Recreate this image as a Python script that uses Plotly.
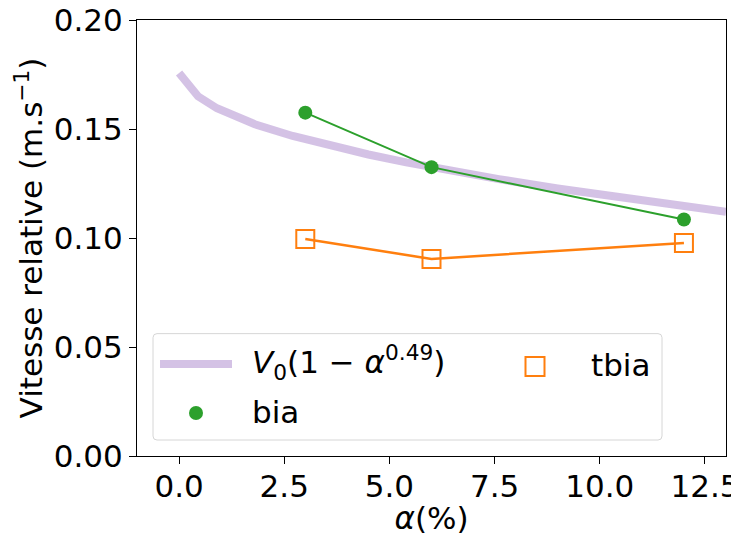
import plotly.graph_objects as go

# Model curve V0(1 - alpha^0.49)
curve_x = [0, 0.45, 0.9, 1.35, 1.8, 2.7, 3.6, 4.5, 5.4, 6.3, 7.6, 9.0, 10.3, 11.7, 13.0]
curve_y = [0.1757, 0.1650, 0.1595, 0.1555, 0.1522, 0.1468, 0.1423, 0.1383, 0.1347, 0.1314, 0.1270, 0.1227, 0.1190, 0.1153, 0.1120]

# bia series
bia_x = [3, 6, 12]
bia_y = [0.1575, 0.1325, 0.1085]

# tbia series
tbia_x = [3, 6, 12]
tbia_y = [0.0995, 0.0904, 0.0977]

x_ticks = [0, 2.5, 5, 7.5, 10, 12.5]
x_ticktext = ["0.0", "2.5", "5.0", "7.5", "10.0", "12.5"]
y_ticks = [0, 0.05, 0.10, 0.15, 0.20]
y_ticktext = ["0.00", "0.05", "0.10", "0.15", "0.20"]

legend_labels = ["<i>V</i><sub>0</sub>(1 − <i>α</i><sup>0.49</sup>)", "bia", "tbia"]

FONT = "DejaVu Sans"
FS = 31
PURPLE = "rgba(148,103,189,0.4)"
GREEN = "#2ca02c"
ORANGE = "#ff7f0e"

# page body adds an 8px offset; compensate so the plot lands where the reference has it
OFF = 8
W, H = 739 - OFF, 536 - OFF
ML, MR, MT, MB = 137 - OFF, 13, 19.5 - OFF, 80
PW, PH = W - ML - MR, H - MT - MB


def px_x(p):
    # p given in reference (window) pixels
    return (p - OFF - ML) / PW


def px_y(p):
    return (H - MB - (p - OFF)) / PH


fig = go.Figure()
fig.add_trace(go.Scatter(
    x=curve_x, y=curve_y, mode="lines",
    line=dict(color=PURPLE, width=8),
    name=legend_labels[0], showlegend=False,
))
fig.add_trace(go.Scatter(
    x=bia_x, y=bia_y, mode="lines+markers",
    line=dict(color=GREEN, width=2),
    marker=dict(color=GREEN, size=14, symbol="circle"),
    name=legend_labels[1], showlegend=False,
))
fig.add_trace(go.Scatter(
    x=tbia_x, y=tbia_y, mode="lines+markers",
    line=dict(color=ORANGE, width=2.5),
    marker=dict(color=ORANGE, size=18, symbol="square-open", line=dict(width=2)),
    name=legend_labels[2], showlegend=False,
))

axis_common = dict(
    showline=True, linecolor="black", linewidth=1, mirror=True,
    ticks="outside", ticklen=7, tickwidth=1, tickcolor="black",
    showgrid=False, zeroline=False, automargin=False,
    ticklabeloverflow="allow",
    tickfont=dict(family=FONT, size=FS, color="black"),
)

# ---- manual legend (matplotlib-like, two columns) ----
bx0, bx1, by0, by1, r = 153, 662, 333.5, 440, 4
box_path = (
    f"M {px_x(bx0 + r)},{px_y(by0)} L {px_x(bx1 - r)},{px_y(by0)} "
    f"Q {px_x(bx1)},{px_y(by0)} {px_x(bx1)},{px_y(by0 + r)} "
    f"L {px_x(bx1)},{px_y(by1 - r)} Q {px_x(bx1)},{px_y(by1)} {px_x(bx1 - r)},{px_y(by1)} "
    f"L {px_x(bx0 + r)},{px_y(by1)} Q {px_x(bx0)},{px_y(by1)} {px_x(bx0)},{px_y(by1 - r)} "
    f"L {px_x(bx0)},{px_y(by0 + r)} Q {px_x(bx0)},{px_y(by0)} {px_x(bx0 + r)},{px_y(by0)} Z"
)
shapes = [
    dict(type="path", xref="paper", yref="paper", path=box_path,
         line=dict(color="#d6d6d6", width=1), fillcolor="rgba(255,255,255,0.8)", layer="above"),
    dict(type="line", xref="paper", yref="paper",
         x0=px_x(160), x1=px_x(232), y0=px_y(364), y1=px_y(364),
         line=dict(color=PURPLE, width=8), layer="above"),
    dict(type="circle", xref="paper", yref="paper", xsizemode="pixel", ysizemode="pixel",
         xanchor=px_x(196), yanchor=px_y(413), x0=-7, x1=7, y0=-7, y1=7,
         fillcolor=GREEN, line=dict(color=GREEN, width=0), layer="above"),
    dict(type="rect", xref="paper", yref="paper", xsizemode="pixel", ysizemode="pixel",
         xanchor=px_x(535), yanchor=px_y(366.5), x0=-9.5, x1=9.5, y0=-9.5, y1=9.5,
         fillcolor="rgba(0,0,0,0)", line=dict(color=ORANGE, width=2), layer="above"),
]
annotations = [
    dict(text=legend_labels[0], x=px_x(250), y=px_y(362), xref="paper", yref="paper",
         xanchor="left", yanchor="middle", showarrow=False,
         font=dict(family=FONT, size=FS, color="black")),
    dict(text=legend_labels[1], x=px_x(250), y=px_y(412), xref="paper", yref="paper",
         xanchor="left", yanchor="middle", showarrow=False,
         font=dict(family=FONT, size=FS, color="black")),
    dict(text=legend_labels[2], x=px_x(589), y=px_y(365), xref="paper", yref="paper",
         xanchor="left", yanchor="middle", showarrow=False,
         font=dict(family=FONT, size=FS, color="black")),
]

fig.update_layout(
    width=W, height=H,
    margin=dict(l=ML, r=MR, t=MT, b=MB),
    paper_bgcolor="white", plot_bgcolor="white",
    font=dict(family=FONT, size=FS, color="black"),
    xaxis=dict(range=[-1, 13], tickvals=x_ticks, ticktext=x_ticktext,
               ticklabelstandoff=-4,
               title=dict(text="<i>α</i>(%)", font=dict(family=FONT, size=FS), standoff=3),
               **axis_common),
    yaxis=dict(range=[0, 0.20], tickvals=y_ticks, ticktext=y_ticktext,
               title=dict(text="Vitesse relative (m.s<sup>−1</sup>)", font=dict(family=FONT, size=FS), standoff=1),
               **axis_common),
    shapes=shapes,
    annotations=annotations,
    showlegend=False,
)

fig.write_html("out.html")
